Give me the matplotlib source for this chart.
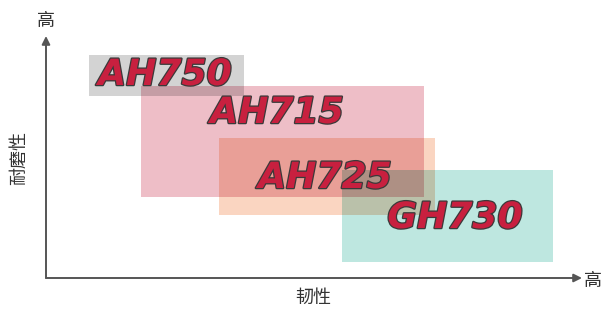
import matplotlib
matplotlib.use("Agg")
import matplotlib.pyplot as plt
from matplotlib.patches import Rectangle
import matplotlib.patheffects as pe
from itertools import combinations
import numpy as np

plt.rcParams['font.family'] = ['Noto Sans CJK SC', 'DejaVu Sans']

# Data: grade regions on toughness (x) / wear resistance (y) scale
grades = ["AH750", "AH715", "AH725", "GH730"]
tough_lo = [43, 95, 173, 296]
tough_hi = [198, 378, 389, 507]
wear_lo = [182, 81, 63, 16]
wear_hi = [223, 192, 140, 108]
label_x = [119, 231, 279, 409]
label_y = [203, 165, 100, 60]
colors = [(211, 211, 211), (238, 190, 199), (250, 213, 193), (190, 231, 224)]

x_label = "韧性"
y_label = "耐磨性"
high_label = "高"

fig = plt.figure(figsize=(6.02, 3.09), dpi=100)
W, H = 602, 309
ax = fig.add_axes([46 / W, (H - 278) / H, (580 - 46) / W, (278 - 38) / H])
ax.set_xlim(0, 534)
ax.set_ylim(0, 240)
ax.axis('off')

# multiply-blend overlapping regions: draw every subset's intersection
n = len(grades)
for k in range(1, n + 1):
    for combo in combinations(range(n), k):
        x0 = max(tough_lo[i] for i in combo)
        x1 = min(tough_hi[i] for i in combo)
        y0 = max(wear_lo[i] for i in combo)
        y1 = min(wear_hi[i] for i in combo)
        if x1 <= x0 or y1 <= y0:
            continue
        c = np.ones(3)
        for i in combo:
            c *= np.array(colors[i]) / 255.0
        ax.add_patch(Rectangle((x0, y0), x1 - x0, y1 - y0, facecolor=c,
                               edgecolor='none', zorder=k))

for i, g in enumerate(grades):
    ax.text(label_x[i], label_y[i], g, ha='center', va='center', fontsize=26,
            fontweight='bold', style='italic', family='DejaVu Sans',
            color='#c8203f', zorder=10,
            path_effects=[pe.withStroke(linewidth=1.8, foreground='#3a3a3a')])

axis_color = '#555555'
ax.annotate('', xy=(536, 0), xytext=(0, 0),
            arrowprops=dict(arrowstyle='-|>', color=axis_color, lw=1.4,
                            mutation_scale=12, shrinkA=0, shrinkB=0),
            annotation_clip=False)
ax.annotate('', xy=(0, 242), xytext=(0, 0),
            arrowprops=dict(arrowstyle='-|>', color=axis_color, lw=1.4,
                            mutation_scale=12, shrinkA=0, shrinkB=0),
            annotation_clip=False)

tc = '#333333'
fig.text(593 / W, 1 - 281 / H, high_label, ha='center', va='center', fontsize=13, color=tc)
fig.text(46 / W, 1 - 21 / H, high_label, ha='center', va='center', fontsize=13, color=tc)
fig.text(313 / W, 1 - 298 / H, x_label, ha='center', va='center', fontsize=13, color=tc)
fig.text(19 / W, 1 - 158 / H, y_label, ha='center', va='center', fontsize=13, color=tc, rotation=90)

fig.savefig("out.png", dpi=100)
